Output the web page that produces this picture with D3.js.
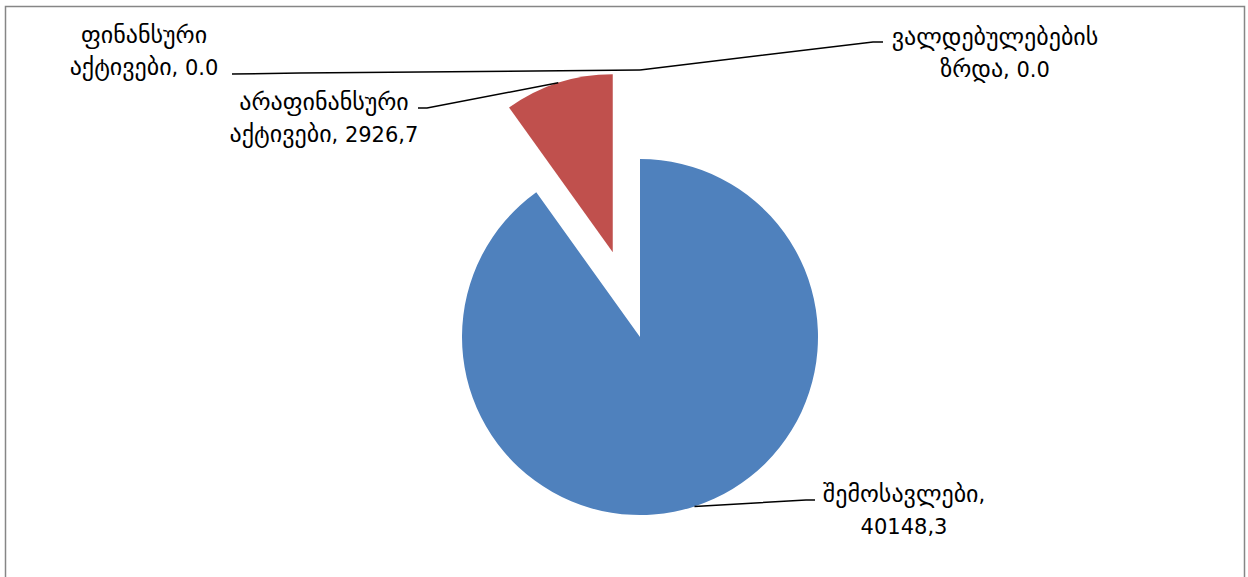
<!DOCTYPE html>
<html>
<head>
<meta charset="utf-8">
<script src="https://cdn.jsdelivr.net/npm/d3@7"></script>
<style>
  html, body { margin: 0; padding: 0; background: #fff; }
  svg { display: block; }
</style>
</head>
<body>
<script>
const width = 1248, height = 577;

// slices in drawing order (clockwise from 12 o'clock)
const categories = ['შემოსავლები', 'არაფინანსური აქტივები', 'ფინანსური აქტივები', 'ვალდებულებების ზრდა'];
const valueLabels = ['40148,3', '2926,7', '0.0', '0.0'];
// share of the circle each slice takes in the picture (percent)
const sliceShares = [90.1, 9.9, 0, 0];
const colors = ['#4F81BD', '#C0504D', '#9BBB59', '#8064A2'];

const cx = 640, cy = 337, radius = 178;
const explode = [0, 89, 89, 89];

// manual label placement: centre x, baseline of first line, elbow of leader, end of leader
const labelLayout = [
  { x: 904, y: 502, elbow: [806, 500], end: [815, 500] },
  { x: 324, y: 110, elbow: [427, 108], end: [418, 108] },
  { x: 144, y: 43,  elbow: [300, 73],  end: [232, 74] },
  { x: 995, y: 45,  elbow: [873, 42],  end: [883, 42] }
];

const svg = d3.select('body').append('svg')
  .attr('width', width)
  .attr('height', height);

svg.append('rect')
  .attr('x', 5.5).attr('y', 6.5)
  .attr('width', 1239).attr('height', 600)
  .attr('fill', '#fff')
  .attr('stroke', '#868686')
  .attr('stroke-width', 1.5);

const pie = d3.pie().sort(null).value(d => d);
const arcs = pie(sliceShares);
const arc = d3.arc().innerRadius(0).outerRadius(radius);

const offset = (d, i) => {
  const mid = (d.startAngle + d.endAngle) / 2;
  return [Math.sin(mid) * explode[i], -Math.cos(mid) * explode[i]];
};

svg.append('g')
  .attr('transform', `translate(${cx},${cy})`)
  .selectAll('path')
  .data(arcs)
  .join('path')
  .attr('d', arc)
  .attr('fill', (d, i) => colors[i])
  .attr('transform', (d, i) => `translate(${offset(d, i)})`);

// leader lines
svg.append('g')
  .attr('fill', 'none')
  .attr('stroke', '#000')
  .attr('stroke-width', 1.5)
  .selectAll('polyline')
  .data(arcs)
  .join('polyline')
  .attr('points', (d, i) => {
    const mid = (d.startAngle + d.endAngle) / 2;
    const [ox, oy] = offset(d, i);
    const ax = cx + ox + Math.sin(mid) * radius;
    const ay = cy + oy - Math.cos(mid) * radius;
    const L = labelLayout[i];
    return [[ax, ay], L.elbow, L.end].join(' ');
  });

// labels - georgian script drawn a bit larger than digits, like the original
const labels = svg.append('g')
  .attr('font-family', '"DejaVu Sans", sans-serif')
  .attr('font-size', '21px')
  .attr('fill', '#000')
  .attr('text-anchor', 'middle')
  .selectAll('text')
  .data(arcs)
  .join('text');

labels.each(function(d, i) {
  const full = `${categories[i]}, ${valueLabels[i]}`;
  const cut = full.indexOf(' ');
  const lines = [full.slice(0, cut), full.slice(cut + 1)];
  const L = labelLayout[i];
  lines.forEach((line, k) => {
    const runs = line.split(/([\u10A0-\u10FF]+)/).filter(s => s.length);
    runs.forEach((run, r) => {
      const t = d3.select(this).append('tspan').text(run);
      if (r === 0) t.attr('x', L.x).attr('y', L.y + k * 32);
      if (/[\u10A0-\u10FF]/.test(run)) t.attr('font-size', '24px');
    });
  });
});
</script>
</body>
</html>
